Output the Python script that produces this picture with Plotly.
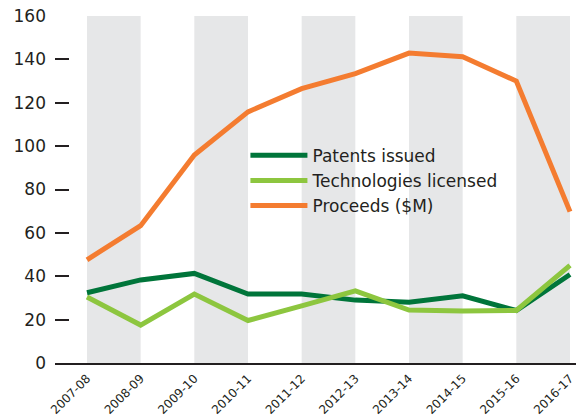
import plotly.graph_objects as go

years = ["2007-08", "2008-09", "2009-10", "2010-11", "2011-12",
         "2012-13", "2013-14", "2014-15", "2015-16", "2016-17"]
patents = [32.4, 38.3, 41.3, 31.8, 31.8, 29.0, 28.0, 31.0, 24.2, 40.8]
technologies = [30.4, 17.5, 31.8, 19.6, 26.3, 33.3, 24.4, 24.0, 24.2, 45.0]
proceeds = [47.6, 63.3, 95.9, 115.8, 126.5, 133.4, 142.9, 141.2, 130.0, 69.8]

yticks = [0, 20, 40, 60, 80, 100, 120, 140, 160]

x = list(range(len(years)))
xmax = 9.112

fig = go.Figure()
fig.add_trace(go.Scatter(x=x, y=patents, mode="lines", name="Patents issued",
                         line=dict(color="#00753a", width=5)))
fig.add_trace(go.Scatter(x=x, y=technologies, mode="lines", name="Technologies licensed",
                         line=dict(color="#8dc63f", width=5)))
fig.add_trace(go.Scatter(x=x, y=proceeds, mode="lines", name="Proceeds ($M)",
                         line=dict(color="#f47c30", width=5)))

for i in range(0, len(years), 2):
    fig.add_shape(type="rect", xref="x", yref="y", x0=i, x1=min(i + 1, xmax),
                  y0=0, y1=160, fillcolor="#e6e7e8", line=dict(width=0), layer="below")

fig.update_layout(
    width=576, height=419,
    margin=dict(l=55, r=0, t=16, b=56),
    paper_bgcolor="white", plot_bgcolor="white",
    font=dict(family="DejaVu Sans", color="#231f20"),
    showlegend=True,
    legend=dict(x=0.3655, y=0.649, xanchor="left", yanchor="top",
                bgcolor="rgba(0,0,0,0)", font=dict(size=17, family="DejaVu Sans", color="#231f20"),
                tracegroupgap=0, itemwidth=57),
    xaxis=dict(range=[-0.596, xmax], tickmode="array", tickvals=x, ticktext=years,
               tickangle=-45, tickfont=dict(size=12, color="#231f20"),
               showgrid=False, zeroline=False, showline=True, linecolor="#231f20",
               linewidth=1.5, ticks="outside", ticklen=2, tickcolor="rgba(0,0,0,0)",
               automargin=False, ticklabeloverflow="allow"),
    yaxis=dict(range=[0, 160], tickmode="array", tickvals=yticks,
               tickfont=dict(size=17, color="#231f20"),
               showgrid=False, zeroline=False, showline=False,
               ticks="inside", ticklen=14, tickwidth=1.5, tickcolor="#231f20",
               ticklabelstandoff=8, automargin=False),
)

fig.write_html("out.html", config={"displayModeBar": False},
               post_script="document.body.style.margin='0px';document.body.style.overflow='hidden';")
